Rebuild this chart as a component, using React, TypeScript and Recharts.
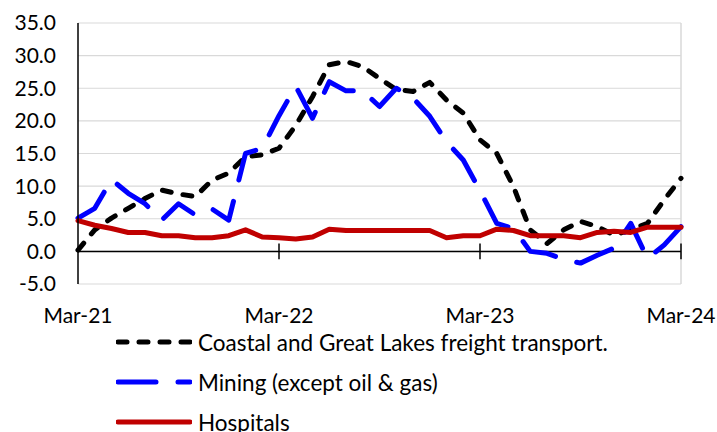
import React from 'react';
import { LineChart, Line, XAxis, YAxis, CartesianGrid, ReferenceLine } from 'recharts';

const FONT = 'Lato, "Noto Sans", sans-serif';

const months = [
  'Mar-21', 'Apr-21', 'May-21', 'Jun-21', 'Jul-21', 'Aug-21', 'Sep-21', 'Oct-21', 'Nov-21', 'Dec-21', 'Jan-22', 'Feb-22',
  'Mar-22', 'Apr-22', 'May-22', 'Jun-22', 'Jul-22', 'Aug-22', 'Sep-22', 'Oct-22', 'Nov-22', 'Dec-22', 'Jan-23', 'Feb-23',
  'Mar-23', 'Apr-23', 'May-23', 'Jun-23', 'Jul-23', 'Aug-23', 'Sep-23', 'Oct-23', 'Nov-23', 'Dec-23', 'Jan-24', 'Feb-24',
  'Mar-24',
];

const coastal = [
  0.2, 3.3, 5.1, 6.6, 8.1, 9.4, 8.8, 8.4, 10.9, 12.0, 14.5, 14.8,
  15.8, 19.3, 23.7, 28.6, 29.1, 28.3, 26.5, 24.8, 24.5, 25.9, 23.2, 21.2,
  17.1, 15.0, 9.9, 3.3, 1.2, 3.3, 4.6, 3.8, 2.5, 3.3, 4.3, 7.9,
  11.2,
];

const mining = [
  5.1, 6.6, 11.0, 8.9, 7.3, 4.8, 7.3, 5.6, 6.5, 4.8, 15.0, 15.8,
  20.8, 25.3, 20.4, 26.0, 24.6, 24.6, 22.2, 25.0, 23.5, 20.7, 16.8, 14.0,
  9.3, 4.3, 3.5, 0.0, -0.3, -1.2, -1.8, -0.6, 0.5, 4.3, -1.1, 1.0,
  3.8,
];

const hospitals = [
  4.7, 4.0, 3.5, 2.9, 2.9, 2.4, 2.4, 2.1, 2.1, 2.4, 3.3, 2.2,
  2.1, 1.9, 2.2, 3.4, 3.2, 3.2, 3.2, 3.2, 3.2, 3.2, 2.1, 2.4,
  2.4, 3.4, 3.2, 2.4, 2.4, 2.4, 2.1, 2.9, 3.1, 2.9, 3.7, 3.7,
  3.7,
];

const yTicks = [-5, 0, 5, 10, 15, 20, 25, 30, 35];
const yearTicks = ['Mar-22', 'Mar-23', 'Mar-24'];

const series = [
  { key: 'coastal', name: 'Coastal and Great Lakes freight transport.', color: '#000000', dash: '9 12', width: 5 },
  { key: 'mining', name: 'Mining (except oil & gas)', color: '#0000ff', dash: '38 22', width: 5 },
  { key: 'hospitals', name: 'Hospitals', color: '#c00000', dash: undefined, width: 5 },
];

const data = months.map((m, i) => ({
  month: m,
  coastal: coastal[i],
  mining: mining[i],
  hospitals: hospitals[i],
}));

export default function App() {
  return (
    <div style={{ position: 'absolute', left: 0, top: 0, width: 717, height: 432, background: '#fff', fontFamily: FONT, overflow: 'hidden' }}>
      <LineChart width={717} height={432} data={data} margin={{ top: 23, right: 36, bottom: 118, left: 1 }}>
        <CartesianGrid vertical={false} stroke="#d9d9d9" strokeWidth={1.2} />
        <XAxis
          dataKey="month"
          interval={11}
          height={30}
          axisLine={false}
          tickLine={false}
          tickMargin={18}
          tick={{ fill: '#000', fontSize: 21, fontFamily: FONT }}
        />
        <YAxis
          width={77}
          domain={[-5, 35]}
          ticks={yTicks}
          interval={0}
          tickFormatter={(v: number) => v.toFixed(1)}
          axisLine={{ stroke: '#000', strokeWidth: 1.5 }}
          tickLine={false}
          tickMargin={16}
          tick={{ fill: '#000', fontSize: 21, fontFamily: FONT }}
        />
        <ReferenceLine x="Mar-24" stroke="#d9d9d9" strokeWidth={1.5} />
        <ReferenceLine y={0} stroke="#000" strokeWidth={1.5} />
        {yearTicks.map(t => (
          <ReferenceLine key={t} segment={[{ x: t, y: -1.2 }, { x: t, y: 1.2 }]} stroke="#000" strokeWidth={1.5} />
        ))}
        {series.map(s => (
          <Line
            key={s.key}
            dataKey={s.key}
            type="linear"
            stroke={s.color}
            strokeWidth={s.width}
            strokeDasharray={s.dash}
            strokeLinecap="round"
            strokeLinejoin="round"
            dot={false}
            activeDot={false}
            isAnimationActive={false}
          />
        ))}
      </LineChart>
      <div style={{ position: 'absolute', left: 118, top: 322 }}>
        {series.map(s => (
          <div key={s.key} style={{ display: 'flex', alignItems: 'center', height: 40 }}>
            <svg width={76} height={12} style={{ marginLeft: -2 }}>
              <line
                x1={2}
                y1={6}
                x2={74}
                y2={6}
                stroke={s.color}
                strokeWidth={s.width}
                strokeDasharray={s.dash}
                strokeLinecap="round"
              />
            </svg>
            <span style={{ fontSize: 22.5, color: '#000', marginLeft: 6, whiteSpace: 'nowrap' }}>{s.name}</span>
          </div>
        ))}
      </div>
    </div>
  );
}
